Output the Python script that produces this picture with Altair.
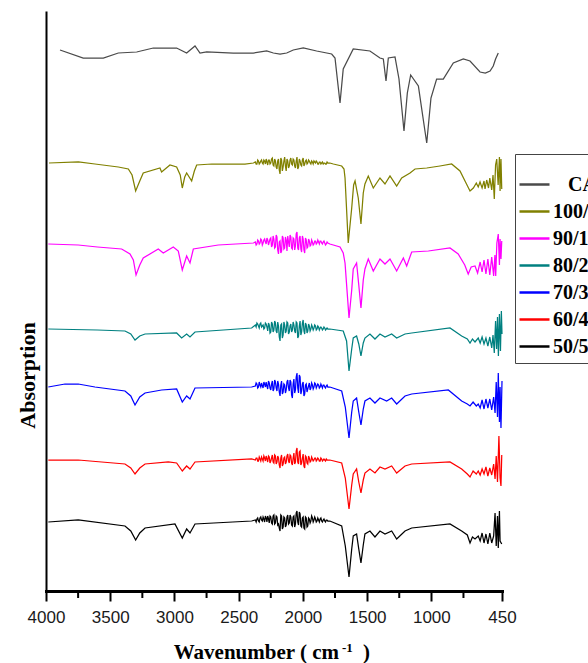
import altair as alt
import pandas as pd

# Spectrum order, colours and the vertical offset each trace is stacked at
SERIES = ["CA", "100/0", "90/10", "80/20", "70/30", "60/40", "50/50"]
COLORS = ["#4a4a4a", "#808000", "#ff00ff", "#008080", "#0000ff", "#ff0000", "#000000"]
OFFSETS = [541, 428, 346, 262, 204, 131, 70]

MAJOR_TICKS = [4000, 3500, 3000, 2500, 2000, 1500, 1000, 450]
MINOR_TICKS = [3750, 3250, 2750, 2250, 1750, 1250, 750]

# (wavenumber, band depth below the trace baseline)
CA_PTS = [(3891, 0), (3710, 8), (3554, 8), (3437, 3), (3294, 2), (3165, -2), (2983, -2),
          (2905, 3), (2840, -4), (2801, 3), (2749, 2), (2542, 3), (2386, 3), (2282, 1),
          (2230, 3), (2178, 4), (2126, 3), (2075, 0), (1997, -2), (1893, 1), (1776, 4),
          (1750, 8), (1732, 29), (1711, 53), (1686, 19), (1608, -1), (1478, 1), (1400, 8),
          (1374, 9), (1353, 31), (1335, 8), (1283, 7), (1252, 29), (1213, 81), (1187, 43),
          (1161, 25), (1101, 36), (1067, 66), (1036, 93), (1003, 48), (959, 29), (907, 29),
          (829, 13), (751, 9), (699, 11), (621, 22), (580, 23), (543, 21), (518, 16),
          (500, 9), (479, 3)]

P100_PTS = [(3977, 0), (3748, -1), (3619, 1), (3437, 4), (3359, 6), (3330, 12), (3302, 28),
            (3270, 18), (3243, 10), (3113, 5), (3100, 9), (3035, 2), (2983, 4), (2955, 12),
            (2939, 25), (2920, 14), (2905, 10), (2866, 18), (2845, 8), (2827, 2), (2710, 1),
            (2451, 1), (2385, 0),
            (1790, 0), (1763, 1), (1698, 3), (1680, 6), (1672, 15), (1647, 80), (1620, 45),
            (1605, 22), (1594, 18), (1569, 35), (1548, 61), (1530, 30), (1517, 21), (1491, 13),
            (1452, 25), (1400, 15), (1361, 21), (1322, 13), (1270, 23), (1231, 15), (1166, 10),
            (1127, 6), (1036, 5), (933, 3), (842, 1), (777, 8), (738, 18), (699, 28), (673, 25),
            (650, 20), (635, 24), (621, 19), (605, 25), (590, 18), (582, 26), (569, 17),
            (555, 25), (545, 15), (530, 27), (520, 12), (510, 36), (500, 2), (491, -4),
            (480, 22), (470, -6), (465, 28), (458, -4), (452, 26)]

P90_PTS = [(3982, -1), (3749, 0), (3600, 2), (3411, 4), (3346, 9), (3320, 15), (3299, 30),
           (3270, 20), (3243, 13), (3126, 4), (3087, 8), (3009, 2), (2970, 6), (2939, 25),
           (2905, 11), (2879, 18), (2853, 4), (2659, 0), (2385, -2),
           (1790, -1), (1711, 2), (1686, 8), (1672, 18), (1641, 73), (1620, 45), (1608, 24),
           (1582, 18), (1565, 40), (1548, 63), (1530, 35), (1517, 24), (1491, 14), (1452, 26),
           (1400, 14), (1361, 19), (1322, 14), (1270, 26), (1218, 13), (1192, 21), (1153, 7),
           (1023, 6), (855, 3), (791, 9), (740, 20), (713, 29), (690, 22), (660, 21),
           (640, 28), (620, 17), (605, 27), (590, 15), (575, 29), (560, 14), (545, 30),
           (530, 12), (515, 31), (505, 10), (499, 31), (490, -2), (479, -11), (470, 20),
           (465, -6), (458, 14), (452, -4)]

P80_PTS = [(3982, 0), (3600, 1), (3385, 2), (3340, 5), (3307, 11), (3270, 7), (3229, 5),
           (2983, 4), (2944, 9), (2905, 5), (2879, 8), (2840, 3), (2399, -1),
           (1790, 0), (1686, 2), (1660, 12), (1641, 42), (1620, 20), (1608, 9), (1582, 7),
           (1565, 15), (1548, 27), (1530, 14), (1517, 9), (1478, 5), (1439, 10), (1400, 5),
           (1361, 8), (1309, 5), (1270, 9), (1205, 5), (1153, 4), (855, -1), (764, 7),
           (720, 10), (699, 14), (680, 10), (660, 13), (635, 9), (620, 14), (605, 8),
           (590, 15), (575, 9), (560, 17), (545, 8), (530, 19), (520, 6), (510, 24),
           (500, -8), (492, 20), (485, -12), (478, 27), (470, -15), (462, 22), (455, -18),
           (450, 5)]

P70_PTS = [(3982, 0), (3852, -3), (3749, -3), (3619, 0), (3385, 4), (3340, 9), (3307, 18),
           (3270, 10), (3229, 6), (3100, 3), (2983, 2), (2939, 15), (2905, 9), (2879, 12),
           (2840, 1), (2399, 0),
           (1790, 0), (1698, 4), (1670, 20), (1641, 51), (1620, 25), (1608, 14), (1582, 11),
           (1565, 25), (1548, 38), (1530, 22), (1517, 14), (1478, 11), (1439, 16), (1400, 11),
           (1348, 14), (1309, 11), (1270, 17), (1205, 9), (1153, 7), (868, 3), (764, 14),
           (720, 17), (699, 19), (675, 15), (650, 19), (635, 17), (620, 21), (605, 13),
           (590, 22), (575, 12), (560, 21), (545, 12), (530, 23), (515, 10), (504, 26),
           (495, -5), (485, 30), (479, -14), (470, 35), (465, 0), (458, 41), (450, -6)]

P60_PTS = [(3982, 0), (3749, 0), (3385, 4), (3340, 8), (3307, 14), (3270, 8), (3229, 4),
           (3048, 2), (2983, 3), (2939, 11), (2905, 6), (2879, 9), (2840, 2), (2399, -1),
           (1790, 0), (1698, 3), (1670, 18), (1641, 49), (1620, 25), (1608, 14), (1582, 9),
           (1565, 22), (1548, 33), (1530, 20), (1517, 13), (1478, 9), (1439, 13), (1400, 7),
           (1361, 9), (1309, 6), (1270, 13), (1205, 6), (1153, 4), (855, 2), (764, 9),
           (720, 14), (699, 17), (675, 11), (650, 14), (635, 11), (620, 15), (605, 9),
           (590, 14), (575, 7), (560, 16), (545, 8), (530, 15), (515, 4), (504, 19),
           (495, -4), (485, 22), (474, -24), (465, 18), (458, 26), (452, -5)]

P50_PTS = [(3982, 1), (3749, -1), (3385, 5), (3340, 10), (3302, 19), (3270, 12), (3229, 7),
           (2996, 3), (2939, 17), (2905, 8), (2879, 12), (2840, 3), (2399, 0),
           (1790, 0), (1698, 5), (1670, 25), (1641, 56), (1620, 28), (1608, 15), (1582, 13),
           (1565, 28), (1548, 42), (1530, 24), (1517, 13), (1478, 10), (1439, 16), (1400, 10),
           (1361, 13), (1309, 10), (1270, 18), (1205, 10), (1153, 7), (855, 3), (764, 10),
           (720, 14), (699, 22), (680, 16), (660, 18), (635, 15), (620, 20), (605, 12),
           (590, 22), (575, 13), (560, 23), (545, 12), (530, 22), (515, 15), (504, -8),
           (495, 25), (485, -5), (479, 27), (470, -10), (465, 20), (452, 23)]

# Noisy 2370-1806 cm-1 stretch (atmospheric CO2 / detector noise) of the blend traces,
# sampled on two interleaved wavenumber grids
NOISE_WN = [2370, 2358, 2346, 2334, 2322, 2310, 2298, 2286, 2274, 2262, 2250, 2238, 2226,
            2214, 2202, 2190, 2178, 2166, 2154, 2142, 2130, 2118, 2106, 2094, 2082, 2070,
            2058, 2046, 2034, 2022, 2010, 1998, 1986, 1974, 1962, 1950, 1938, 1926, 1914,
            1902, 1890, 1878, 1866, 1854, 1842, 1830, 1818, 1806]
NOISE_WN_B = [2364, 2352, 2340, 2328, 2316, 2304, 2292, 2280, 2268, 2256, 2244, 2232, 2220,
              2208, 2196, 2184, 2172, 2160, 2148, 2136, 2124, 2112, 2100, 2088, 2076, 2064,
              2052, 2040, 2028, 2016, 2004, 1992, 1980, 1968, 1956, 1944, 1932, 1920, 1908,
              1896, 1884, 1872, 1860, 1848, 1836, 1824, 1812]

N100 = [-1, 1, -2, 0, -3, 1, -2, -4, 2, -3, 0, -5, 3, -2, 6, -4, 11, -3, 4, -6, 8, -2, 3, -5,
        2, -3, 5, -6, 4, -2, 3, -5, 1, -3, 0, -2, 1, -1, -2, 0, -1, 1, -1, 0, 1, 0, 1, 0]
N100B = [1, -3, 1, -2, 0, -3, 1, -1, -3, 1, -4, 2, -4, 4, -2, 7, -5, 8, -2, 3, -4, 5, -3, 1,
         -4, 3, -2, 6, -4, 2, -3, 3, -2, 1, -3, 0, -2, 1, -1, -2, 1, -1, 1, -1, 0, 1, -1]
N90 = [-3, -1, -4, -2, -5, -2, -6, -1, -5, -3, -7, 0, -6, 2, -8, 9, -4, 6, -7, 3, -5, -9, 2, -8,
       4, -6, 1, -13, 5, -9, 7, -6, 8, -5, 2, -4, 0, -3, -1, -4, -2, -3, -4, -2, -3, -2, -1, -2]
N90B = [0, -5, -1, -6, 0, -5, -3, -7, 0, -6, 2, -9, 3, -10, 5, -3, 8, -9, 4, -8, 6, -3, -10, 3,
        -7, 5, -11, 3, -7, 4, -9, 5, -7, 3, -6, 1, -5, 0, -4, -1, -5, -1, -4, -1, -4, 0, -3]
N80 = [-4, -6, -3, -5, -2, -4, -1, -5, 2, -4, 3, -5, 1, -6, 4, -3, 12, -5, 6, -4, 2, -6, 3, -5,
       1, -4, 4, -6, 7, -8, 3, -9, 5, -4, 2, -3, 0, -2, -1, -3, 0, -2, -1, -1, 0, -1, 0, 0]
N80B = [-2, -5, -1, -6, -3, 0, -6, -2, -6, 4, -7, 3, -8, 2, -7, 8, -4, 9, -7, 4, -7, 5, -3, 3,
        -7, 2, -7, 9, -3, 6, -6, 2, -6, 4, -5, 2, -4, 1, -4, 1, -3, 1, -2, 1, -2, 1, -1]
N70 = [-1, -3, 0, -2, -4, 1, -3, -5, 2, -4, 3, -6, 2, -5, 4, -3, 9, -6, 5, -2, 3, -7, 4, -5,
       11, -8, 3, -14, 6, -10, 4, -5, 7, -3, 2, -4, 1, -2, 0, -3, -1, -2, 0, -1, -2, 0, -1, 0]
N70B = [-4, 1, -5, 0, -1, -5, 0, -1, -6, 1, -3, 4, -7, 1, -6, 5, -2, 7, -3, 6, -5, 1, -7, 8,
        -3, 6, -10, 1, -12, 7, -3, 9, -2, 5, -1, 3, -4, 2, -4, 1, -3, 1, -3, 1, -2, 1, -2]
N60 = [0, -2, 1, -1, -3, 1, -2, -4, 2, -3, 1, -5, 3, -4, 2, -2, 8, -5, 4, -3, 2, -6, 3, -4,
       5, -7, 2, -12, 4, -9, 3, -6, 8, -3, 4, -2, 1, -1, 0, -2, 0, -1, 1, -1, 0, 0, -1, 0]
N60B = [-2, 1, -3, 1, -1, -4, 1, -1, -4, 3, -2, 2, -5, 4, -4, 5, -2, 6, -2, 4, -4, 1, -5, 3,
        -2, 4, -9, 2, -8, 5, -2, 6, -4, 3, -4, 2, -3, 1, -2, 1, -2, 1, -2, 1, -1, 1, 0]
N50 = [-1, -2, 0, -3, -1, -4, 1, -3, -5, 2, -4, 3, -6, 2, -4, 3, 10, -5, 6, -3, 4, -6, 2, -4,
       5, -5, 3, -10, 4, -7, 6, -4, 8, -3, 5, -2, 0, -3, -1, -2, 0, -1, -2, 0, -1, 0, -1, 0]
N50B = [1, -3, 1, -4, 0, -2, -5, 1, -2, -5, 2, -5, 3, -5, 4, 7, -6, 8, -4, 6, -4, 3, -6, 4,
        -4, 6, -8, 1, -9, 5, -3, 7, -4, 6, -3, 2, -5, 1, -4, 1, -3, 1, -3, 1, -2, 1, -1]

POINTS = [CA_PTS, P100_PTS, P90_PTS, P80_PTS, P70_PTS, P60_PTS, P50_PTS]
NOISE = [[], N100, N90, N80, N70, N60, N50]
NOISE_B = [[], N100B, N90B, N80B, N70B, N60B, N50B]

rows = []
for name, off, pts, na, nb in zip(SERIES, OFFSETS, POINTS, NOISE, NOISE_B):
    pairs = list(pts) + list(zip(NOISE_WN[:len(na)], na)) + list(zip(NOISE_WN_B[:len(nb)], nb))
    for wn, dip in pairs:
        rows.append({"series": name, "wavenumber": wn, "absorption": off - dip})
df = pd.DataFrame(rows).sort_values(["series", "wavenumber"], ascending=[True, False])

SERIF = "Liberation Serif, Times New Roman, serif"
SANS = "Liberation Sans, Arial, sans-serif"

x_enc = alt.X(
    "wavenumber:Q",
    scale=alt.Scale(domain=[4000, 450], nice=False, zero=False),
    axis=alt.Axis(
        values=MAJOR_TICKS, format="d", title=None, grid=False,
        labelFont=SANS, labelFontSize=17, labelColor="#1a1a1a", labelPadding=8,
        labelFlush=False, labelOverlap=False,
        tickSize=10, tickWidth=2, tickColor="black",
        domainWidth=3, domainColor="black",
    ),
)
y_enc = alt.Y(
    "absorption:Q",
    scale=alt.Scale(domain=[0, 579], nice=False, zero=False),
    axis=alt.Axis(
        title="Absorption", ticks=False, labels=False, grid=False,
        domainWidth=2, domainColor="black",
        titleFont=SERIF, titleFontWeight="bold", titleFontSize=22, titleColor="black",
        titleAngle=270, titleAlign="center", titleBaseline="middle",
        titleX=-19, titleY=363,
    ),
)

# the CA entry is indented a little; a zero-width space keeps the leading blanks
CA_LABEL_EXPR = "datum.label == 'CA' ? '\u200b\u00a0\u00a0\u00a0CA' : datum.label"

lines = alt.Chart(df).mark_line(strokeWidth=1.25).encode(
    x=x_enc,
    y=y_enc,
    color=alt.Color(
        "series:N",
        scale=alt.Scale(domain=SERIES, range=COLORS),
        legend=alt.Legend(
            title=" ", titleFontSize=1, titlePadding=7,
            orient="none", legendX=469, legendY=142,
            symbolType="stroke", symbolSize=900, symbolStrokeWidth=2.5,
            symbolOffset=-3, labelOffset=2,
            labelFont=SERIF, labelFontWeight="bold", labelFontSize=20,
            labelColor="black", labelLimit=300,
            labelExpr=CA_LABEL_EXPR,
            padding=6, rowPadding=0,
            strokeColor="#444444", fillColor="white",
        ),
    ),
)

minor = alt.Chart(pd.DataFrame({"wavenumber": MINOR_TICKS})).mark_rule(
    color="black", strokeWidth=2
).encode(x="wavenumber:Q", y=alt.value(579), y2=alt.value(586))

title_main = alt.Chart(pd.DataFrame({"t": ["Wavenumber ( cm"]})).mark_text(
    font=SERIF, fontWeight="bold", fontSize=21, align="right", baseline="alphabetic",
    color="black"
).encode(text="t:N", x=alt.value(293), y=alt.value(647))

title_sup = alt.Chart(pd.DataFrame({"t": ["-1"]})).mark_text(
    font=SERIF, fontWeight="bold", fontSize=13, align="left", baseline="alphabetic",
    color="black"
).encode(text="t:N", x=alt.value(296), y=alt.value(640))

title_end = alt.Chart(pd.DataFrame({"t": [")"]})).mark_text(
    font=SERIF, fontWeight="bold", fontSize=21, align="left", baseline="alphabetic",
    color="black"
).encode(text="t:N", x=alt.value(317), y=alt.value(647))

chart = alt.layer(lines, minor, title_main, title_sup, title_end).properties(
    width=456, height=579,
    autosize=alt.AutoSizeParams(type="none"),
    padding={"left": 46, "top": 12, "right": 86, "bottom": 72},
).configure_view(stroke=None).configure_axis(domainCap="square")

chart.save("out.html", embed_options={"renderer": "svg", "actions": False})
